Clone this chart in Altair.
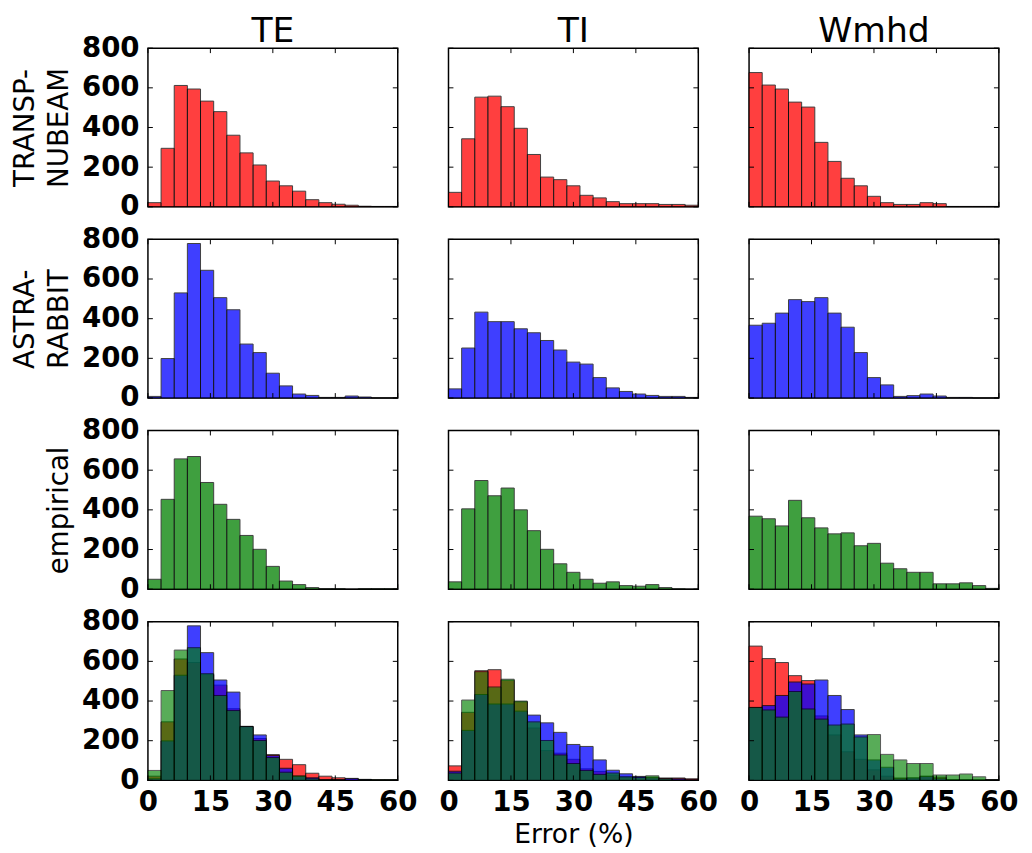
import altair as alt
import pandas as pd

# ---- data ----
bin_count = 19
x_lo, x_hi = 0, 60
quantities = ["TE", "TI", "Wmhd"]
models = ["TRANSP-NUBEAM", "ASTRA-RABBIT", "empirical"]
row_titles = [["TRANSP-", "NUBEAM"], ["ASTRA-", "RABBIT"], "empirical", ""]
colors = ["#ff0000", "#0000ff", "#008000"]
x_ticks = [0, 15, 30, 45, 60]
y_ticks = [0, 200, 400, 600, 800]

te_transp = [21, 295, 612, 594, 533, 480, 361, 272, 211, 130, 106, 79, 36, 21, 13, 8, 3, 2, 2]
ti_transp = [73, 343, 553, 558, 505, 396, 264, 150, 137, 106, 58, 45, 26, 16, 16, 16, 12, 12, 8]
wmhd_transp = [677, 614, 594, 528, 503, 325, 229, 144, 106, 53, 21, 12, 12, 21, 16, 2, 2, 2, 2]

te_astra = [8, 199, 530, 779, 644, 506, 445, 272, 229, 125, 61, 20, 13, 3, 3, 10, 5, 0, 0]
ti_astra = [46, 252, 433, 385, 385, 349, 329, 290, 242, 181, 171, 103, 51, 33, 20, 13, 8, 8, 3]
wmhd_astra = [367, 377, 428, 496, 486, 506, 428, 357, 229, 103, 66, 8, 12, 20, 10, 3, 3, 0, 0]

te_emp = [50, 453, 657, 669, 538, 428, 352, 271, 201, 115, 41, 23, 8, 3, 3, 0, 3, 3, 3]
ti_emp = [37, 405, 548, 471, 510, 400, 295, 201, 128, 85, 50, 30, 37, 18, 15, 23, 8, 2, 0]
wmhd_emp = [368, 355, 319, 448, 360, 309, 279, 284, 219, 231, 131, 103, 85, 85, 27, 27, 32, 18, 4]

series = {
    ("TRANSP-NUBEAM", "TE"): te_transp,
    ("TRANSP-NUBEAM", "TI"): ti_transp,
    ("TRANSP-NUBEAM", "Wmhd"): wmhd_transp,
    ("ASTRA-RABBIT", "TE"): te_astra,
    ("ASTRA-RABBIT", "TI"): ti_astra,
    ("ASTRA-RABBIT", "Wmhd"): wmhd_astra,
    ("empirical", "TE"): te_emp,
    ("empirical", "TI"): ti_emp,
    ("empirical", "Wmhd"): wmhd_emp,
}

edges = [x_lo + i * (x_hi - x_lo) / bin_count for i in range(bin_count + 1)]
rows = []
for (m, q), vals in series.items():
    for i, v in enumerate(vals):
        rows.append({"model": m, "quantity": q, "x0": edges[i], "x1": edges[i + 1], "count": v})
df = pd.DataFrame(rows)
xt = pd.DataFrame({"v": x_ticks})
yt = pd.DataFrame({"v": y_ticks})

W, H = 253.5, 161
FONT = "DejaVu Sans"
TICK = 5
xs = alt.Scale(domain=[x_lo, x_hi], nice=False, zero=False)
ys = alt.Scale(domain=[0, 800], nice=False)


def panel(r, c):
    q = quantities[c]
    if c == 0:
        yaxis = alt.Axis(values=y_ticks, labelFont=FONT, labelFontWeight="bold",
                         labelFontSize=28, labelColor="black", labelPadding=9,
                         ticks=False, domain=False, grid=False,
                         title=row_titles[r], titleFont=FONT, titleFontSize=28,
                         titleFontWeight="normal", titleColor="black",
                         titlePadding=8, titleLineHeight=35)
    else:
        yaxis = None
    if r == 3:
        xaxis = alt.Axis(values=x_ticks, labelFont=FONT, labelFontWeight="bold",
                         labelFontSize=28, labelColor="black", labelPadding=9,
                         labelFlush=False, labelOverlap=False,
                         ticks=False, domain=False, grid=False,
                         title="Error (%)" if c == 1 else "", titleFont=FONT,
                         titleFontSize=27, titleFontWeight="normal",
                         titleColor="black", titlePadding=5)
    else:
        xaxis = None
    ms = models if r == 3 else [models[r]]
    layers = []
    for m in ms:
        d = df[(df["model"] == m) & (df["quantity"] == q)]
        op = 0.65 if (r == 3 and m == "empirical") else 0.75
        layers.append(
            alt.Chart(d).mark_bar(opacity=op, stroke="black", strokeWidth=1,
                                  color=colors[models.index(m)]).encode(
                x=alt.X("x0:Q", scale=xs, axis=xaxis),
                x2="x1:Q",
                y=alt.Y("count:Q", scale=ys, axis=yaxis),
                y2=alt.datum(0),
            )
        )
    base_x = alt.Chart(xt).mark_rule(color="black", strokeWidth=1)
    base_y = alt.Chart(yt).mark_rule(color="black", strokeWidth=1)
    layers += [
        base_x.encode(x=alt.X("v:Q", scale=xs, axis=xaxis), y=alt.value(H), y2=alt.value(H - TICK)),
        base_x.encode(x=alt.X("v:Q", scale=xs, axis=xaxis), y=alt.value(0), y2=alt.value(TICK)),
        base_y.encode(y=alt.Y("v:Q", scale=ys, axis=yaxis), x=alt.value(0), x2=alt.value(TICK)),
        base_y.encode(y=alt.Y("v:Q", scale=ys, axis=yaxis), x=alt.value(W - TICK), x2=alt.value(W)),
    ]
    if r == 0:
        layers.append(
            alt.Chart(pd.DataFrame({"t": [q]})).mark_text(
                font=FONT, fontSize=35, color="black", baseline="alphabetic", align="center"
            ).encode(text="t:N", x=alt.value(W / 2), y=alt.value(-6))
        )
        if c == 0:
            # invisible spacer fixing the top edge of the layout
            layers.append(
                alt.Chart(pd.DataFrame({"t": [q]})).mark_rule(color="white", strokeWidth=1).encode(
                    x=alt.value(0), x2=alt.value(1), y=alt.value(-45), y2=alt.value(-45))
            )
    return alt.layer(*layers).properties(width=W, height=H)


panels = [panel(r, c) for r in range(4) for c in range(3)]
chart = alt.concat(*panels, columns=3, spacing={"row": 33, "column": 51},
                   bounds="flush", align="each").properties(
    padding={"left": 2, "top": -12.5, "right": 5, "bottom": 2}
).configure_view(stroke="black", strokeWidth=1.5)

chart.save("out.html", embed_options={"renderer": "svg", "actions": False})
